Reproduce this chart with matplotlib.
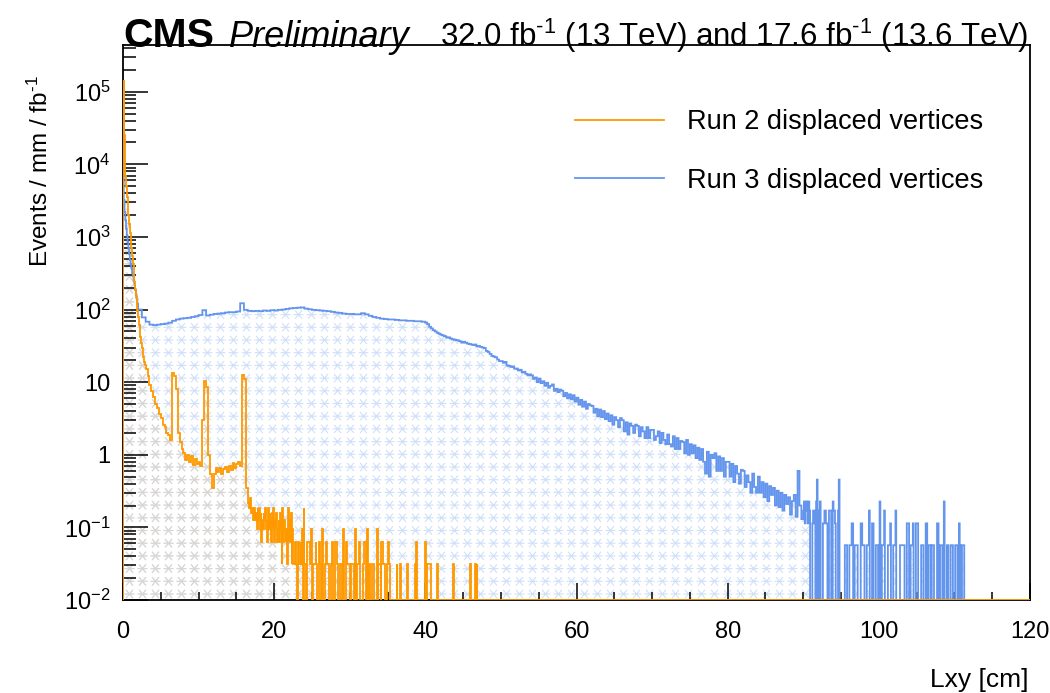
import numpy as np
import matplotlib
matplotlib.use("Agg")
import matplotlib.pyplot as plt
from matplotlib.lines import Line2D
from matplotlib.path import Path
from matplotlib.ticker import FixedLocator, FixedFormatter, LogLocator, MultipleLocator, NullFormatter

plt.rcParams["font.family"] = ["Liberation Sans", "DejaVu Sans"]
plt.rcParams["mathtext.fontset"] = "custom"
plt.rcParams["mathtext.rm"] = "Liberation Sans"
plt.rcParams["mathtext.it"] = "Liberation Sans:italic"
plt.rcParams["mathtext.default"] = "regular"

RUN2_LUMI = 32.0
RUN3_LUMI = 17.6
Y_MIN, Y_MAX = 1e-2, 4.4e5
X_MAX = 120.0

# Run 3, events / mm / fb^-1
run3_near = [1.4e5, 3200, 2200, 1700, 1300, 1050, 850, 700, 580, 480,
             420, 370, 320, 290, 250, 220, 190, 160, 140, 120]  # 0-2 cm, 1 mm bins
run3_mid = [100, 78, 68, 62, 61, 62, 63, 64, 66, 70,
            73, 75, 76, 77, 79, 81, 84, 98, 83, 85,
            87, 88, 89, 91, 92, 92, 94, 122, 99, 96,
            95, 96, 95, 97, 96, 98, 97, 99, 100, 102,
            104, 105, 106, 107, 103, 101, 99, 98, 97, 96,
            95, 93, 91, 90, 88, 87, 87, 86, 86, 89,
            86, 82, 79, 77, 75, 74, 73, 73, 72, 71,
            71, 70, 70, 69, 69, 68]  # 2-40 cm, 5 mm bins
run3_far = [66, 63, 58, 55, 52, 50, 48, 46.5,
            45, 44, 43, 41, 41.5, 40, 39, 38.5,
            38, 37.5, 36.5, 35, 36, 35, 34, 33.5,
            33, 32.5, 33, 31, 31.5, 30.5, 30, 29.5,
            27, 26, 24.5, 23, 22.5, 22, 20.5, 19.5,
            19.5, 18.5, 19, 17, 16.8, 16.2, 16.5, 15.3,
            15.4, 14.5, 14.8, 13.6, 13.9, 13.0, 12.4, 12.8,
            12.4, 11.1, 11.6, 10.0, 11.2, 9.7, 10.3, 8.9,
            9.8, 8.4, 8.9, 9.3, 7.6, 8.1, 7.3, 7.9,
            7.6, 6.4, 7.1, 6.0, 6.8, 5.8, 6.6, 5.4,
            6.1, 4.9, 5.7, 4.6, 5.4, 4.3, 5.0, 4.8,
            4.7, 3.8, 4.3, 3.4, 4.2, 3.3, 4.0, 3.1,
            3.7, 2.9, 3.5, 2.6, 3.3, 3.0, 2.4, 3.2,
            3.0, 2.1, 2.8, 1.9, 2.7, 2.5, 2.0, 2.6,
            2.5, 1.8, 2.4, 2.1, 1.7, 2.4, 1.7, 2.2,
            2.2, 1.6, 1.8, 2.1, 1.45, 2.0, 1.6, 1.4,
            1.9, 1.4, 1.3, 1.8, 1.2, 1.7, 1.2, 1.55,
            1.5, 1.05, 1.6, 1.0, 1.4, 1.05, 1.35, 0.9,
            1.25, 0.85, 1.2, 0.8, 0.55, 1.1, 0.5, 1.0,
            0.9, 1.05, 0.6, 0.95, 0.6, 0.9, 0.5, 0.8,
            0.8, 0.5, 0.75, 0.42, 0.7, 0.55, 0.4, 0.62,
            0.6, 0.36, 0.52, 0.42, 0.3, 0.55, 0.36, 0.3,
            0.5, 0.3, 0.42, 0.26, 0.4, 0.23, 0.37, 0.28,
            0.35, 0.2, 0.32, 0.19, 0.3, 0.17, 0.28, 0.21,
            0.26, 0.15, 0.23, 0.28, 0.14, 0.6, 0.2, 0.13]  # 40-90 cm, 2.5 mm bins
# raw vertex counts per 1 mm bin, 90-112 cm
run3_tail_counts = ("3423432430" "0023320480" "3040002233" "2200333004" "3320003800"
                    "0000011100" "0111220011" "1100002211" "1000111300" "0220001110"
                    "0400111300" "0011120001" "1130000011" "1111000222" "0011120002"
                    "2200001110" "0022001110" "1110000220" "0111004000" "1100011100"
                    "0111002100" "1110000000")

# Run 2, events / mm / fb^-1
run2_near = [1.4e5, 2.5e4, 1.1e4, 7000, 5000, 3600, 2600, 2000, 1500, 1150,
             900, 700, 540, 420, 320, 240, 185, 150, 120, 95,
             78, 62, 50, 42, 35, 30, 26, 22, 19, 17]  # 0-3 cm, 1 mm bins
run2_mid = [15, 12, 9, 7.5, 6.2, 5.0, 4.4, 3.6, 3.2, 2.6,
            2.4, 2.0, 1.9, 1.6, 13.5, 12, 8, 2.0, 1.5, 1.2,
            1.05, 0.85, 1.0, 0.8, 0.95, 0.72, 0.88, 0.75, 0.8, 0.7,
            3.0, 10.5, 8.5, 1.0, 0.55, 0.35, 0.55, 0.65, 0.58, 0.66,
            0.55, 0.64, 0.68, 0.58, 0.7, 0.62, 0.76, 0.66, 0.74, 0.8,
            0.7, 12.5, 11, 0.35]  # 3-16.5 cm, 2.5 mm bins
# raw vertex counts per 1 mm bin, 16.5-47.5 cm
run2_tail_counts = ("8768556465" "4536463524" "3546342635" "4253624352" "3425316243"
                    "2316242513" "1122100211" "2130611002" "2211300111" "2100221031"
                    "0012211100" "1120002211" "0011103000" "2211100111" "1030011220"
                    "0011220030" "1100111000" "0301110221" "1100112100" "0000000100"
                    "0010000000" "0100000000" "0102000000" "0000020111" "1110000000"
                    "0100000000" "0000000000" "0010000000" "0000000000" "0000110000"
                    "0101000000")


def build_histogram(segments):
    edges, values = [], []
    for start, width, vals in segments:
        edges.extend(start + width * np.arange(len(vals)))
        values.extend(vals)
    # empty up to the end of the axis
    edges += [start + width * len(vals), X_MAX]
    values.append(0.0)
    values = np.asarray(values, dtype=float)
    # empty bins sit on the floor of the log axis
    values = np.where(values > 0, values, Y_MIN)
    return np.asarray(edges), values


run3_edges, run3_values = build_histogram([
    (0.0, 0.1, run3_near),
    (2.0, 0.5, run3_mid),
    (40.0, 0.25, run3_far),
    (90.0, 0.1, [int(c) / RUN3_LUMI for c in run3_tail_counts]),
])
run2_edges, run2_values = build_histogram([
    (0.0, 0.1, run2_near),
    (3.0, 0.25, run2_mid),
    (16.5, 0.1, [int(c) / RUN2_LUMI for c in run2_tail_counts]),
])

W, H = 1050, 693
fig = plt.figure(figsize=(W / 100, H / 100), dpi=100)
ax = fig.add_axes([123 / W, 1 - 600 / H, 907 / W, 555 / H])
ax.set_yscale("log")

# asterisk hatch, drawn as a marker grid clipped to each filled histogram
asterisk = Path([(-1, 0), (1, 0), (-0.7, -0.85), (0.7, 0.85), (-0.7, 0.85), (0.7, -0.85)],
                [Path.MOVETO, Path.LINETO, Path.MOVETO, Path.LINETO, Path.MOVETO, Path.LINETO])
gx = np.arange(6.5, 907, 13.0) / 907
gy = np.arange(6.0, 555, 12.7) / 555
grid_x, grid_y = np.meshgrid(gx, gy)

for edges, values, hatch_color in [(run3_edges, run3_values, "#cfe0f8"),
                                   (run2_edges, run2_values, "#ddd6cf")]:
    area = ax.stairs(values, edges, baseline=Y_MIN, fill=True,
                     facecolor="none", edgecolor="none")
    marks = ax.scatter(grid_x.ravel(), grid_y.ravel(), s=50, marker=asterisk,
                       facecolors="none", edgecolors=hatch_color, linewidths=0.8,
                       transform=ax.transAxes, zorder=1)
    marks.set_clip_path(area)

ax.stairs(run3_values, run3_edges, color="#6495ed", lw=1.3, zorder=3)
ax.stairs(run2_values, run2_edges, color="#ff9900", lw=1.3, zorder=4)

ax.set_xlim(0, X_MAX)
ax.set_ylim(Y_MIN, Y_MAX)

decades = [1e-2, 1e-1, 1, 10, 1e2, 1e3, 1e4, 1e5]
decade_labels = ["10$^{-2}$", "10$^{-1}$", "1", "10", "10$^{2}$", "10$^{3}$", "10$^{4}$", "10$^{5}$"]
ax.yaxis.set_major_locator(FixedLocator(decades))
ax.yaxis.set_major_formatter(FixedFormatter(decade_labels))
ax.yaxis.set_minor_locator(LogLocator(base=10, subs=np.arange(2, 10), numticks=30))
ax.yaxis.set_minor_formatter(NullFormatter())
ax.xaxis.set_major_locator(MultipleLocator(20))
ax.xaxis.set_minor_locator(MultipleLocator(5))

ax.tick_params(axis="both", which="both", direction="in", width=1.1, labelsize=17,
               top=False, right=False)
ax.tick_params(axis="y", which="major", length=18, pad=9)
ax.tick_params(axis="y", which="minor", length=9)
ax.tick_params(axis="x", which="major", length=12, pad=15)
ax.tick_params(axis="x", which="minor", length=6)
for spine in ax.spines.values():
    spine.set_linewidth(1.3)

handles = [Line2D([], [], color="#ff9900", lw=1.3), Line2D([], [], color="#6495ed", lw=1.3)]
ax.legend(handles, ["Run 2 displaced vertices", "Run 3 displaced vertices"],
          loc="upper left", bbox_to_anchor=(575 / W, 1 - 109 / H), bbox_transform=fig.transFigure,
          frameon=False, fontsize=19.5, handlelength=3.3, handletextpad=0.85,
          labelspacing=1.2, borderpad=0, borderaxespad=0)

fig.text(123 / W, 1 - 47 / H, "CMS", fontsize=29.5, fontweight="bold", va="baseline")
fig.text(229 / W, 1 - 47 / H, "Preliminary", fontsize=26, style="italic", va="baseline")
fig.text(1028 / W, 1 - 46 / H,
         f"{RUN2_LUMI:.1f} fb$^{{\u2010 1}}$ (13 TeV) and {RUN3_LUMI:.1f} fb$^{{\u2010 1}}$ (13.6 TeV)",
         fontsize=22.5, ha="right", va="baseline")
fig.text(40 / W, 1 - 75 / H, "Events / mm / fb$^{\u2010 1}$", fontsize=17.5, rotation=90,
         ha="center", va="top")
fig.text(1028 / W, 1 - 680 / H, "Lxy [cm]", fontsize=19, ha="right", va="center")

fig.savefig("out.png", dpi=100)
